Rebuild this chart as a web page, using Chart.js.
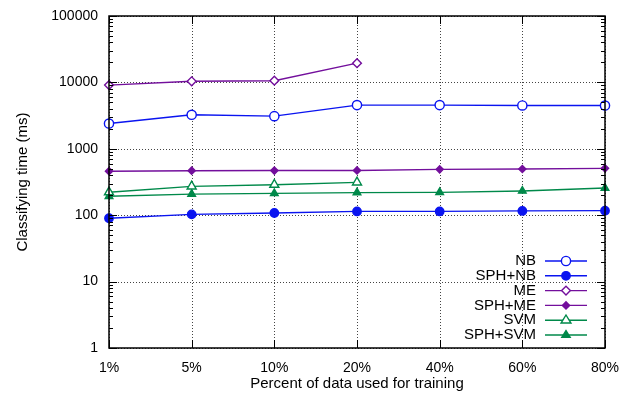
<!DOCTYPE html>
<html>
<head>
<meta charset="utf-8">
<script src="https://cdn.jsdelivr.net/npm/chart.js@4"></script>
<style>
  html, body { margin: 0; padding: 0; background: #fff; }
  #wrap { width: 630px; height: 397px; }
</style>
</head>
<body>
<div id="wrap"><canvas id="chart"></canvas></div>
<script>
// data
const labels = ['1%', '5%', '10%', '20%', '40%', '60%', '80%'];
const nb     = [2400, 3250, 3100, 4550, 4550, 4500, 4480];
const sphNb  = [90, 103, 108, 114, 114, 116, 117];
const me     = [9100, 10400, 10600, 19500, null, null, null];
const sphMe  = [460, 468, 470, 472, 490, 496, 508];
const svm    = [222, 272, 288, 312, null, null, null];
const sphSvm = [193, 208, 213, 219, 221, 232, 257];
const yTicks = [1, 10, 100, 1000, 10000, 100000];

const BLUE = '#0a14f0';
const PURPLE = '#730f9c';
const GREEN = '#00894a';
const FONT = 'Liberation Sans, Arial, sans-serif';

function series(label, data, color, style, filled, radius) {
  return {
    label: label,
    data: data,
    borderColor: color,
    backgroundColor: filled ? color : '#fff',
    pointStyle: style,
    pointRadius: radius,
    pointHoverRadius: radius,
    pointBorderWidth: 1.4,
    borderWidth: 1.4,
    tension: 0,
    spanGaps: false
  };
}

const datasets = [
  series('NB', nb, BLUE, 'circle', false, 4.6),
  series('SPH+NB', sphNb, BLUE, 'circle', true, 4.2),
  series('ME', me, PURPLE, 'rectRot', false, 4.4),
  series('SPH+ME', sphMe, PURPLE, 'rectRot', true, 3.6),
  series('SVM', svm, GREEN, 'triangle', false, 5.2),
  series('SPH+SVM', sphSvm, GREEN, 'triangle', true, 4.4)
];

function drawMark(ctx, style, r, x, y) {
  if (style === 'circle') {
    ctx.arc(x, y, r, 0, Math.PI * 2);
  } else if (style === 'rectRot') {
    ctx.moveTo(x, y - r); ctx.lineTo(x + r, y); ctx.lineTo(x, y + r); ctx.lineTo(x - r, y); ctx.closePath();
  } else {
    ctx.moveTo(x, y - r); ctx.lineTo(x + r * 0.95, y + r * 0.55); ctx.lineTo(x - r * 0.95, y + r * 0.55); ctx.closePath();
  }
}

// dotted grid under the lines
const grid = {
  id: 'grid',
  beforeDatasetsDraw(chart) {
    const ctx = chart.ctx;
    const a = chart.chartArea;
    const ys = chart.scales.y;
    const xs = chart.scales.x;
    ctx.save();
    ctx.strokeStyle = '#444';
    ctx.lineWidth = 1;
    ctx.setLineDash([1, 2]);
    yTicks.forEach(v => {
      const py = Math.round(ys.getPixelForValue(v)) + 0.5;
      ctx.beginPath(); ctx.moveTo(a.left, py); ctx.lineTo(a.right, py); ctx.stroke();
    });
    labels.forEach((l, i) => {
      const px = Math.round(xs.getPixelForValue(i)) + 0.5;
      ctx.beginPath(); ctx.moveTo(px, a.top); ctx.lineTo(px, a.bottom); ctx.stroke();
    });
    ctx.restore();
  }
};

// gnuplot style frame, ticks and legend
const frame = {
  id: 'frame',
  afterDraw(chart) {
    const ctx = chart.ctx;
    const a = chart.chartArea;
    const ys = chart.scales.y;
    const xs = chart.scales.x;
    ctx.save();
    ctx.strokeStyle = '#000';
    ctx.lineWidth = 1;
    for (let d = 1; d < 100000; d *= 10) {
      for (let m = 2; m <= 9; m++) {
        const py = Math.round(ys.getPixelForValue(d * m)) + 0.5;
        ctx.beginPath();
        ctx.moveTo(a.left, py); ctx.lineTo(a.left + 4, py);
        ctx.moveTo(a.right, py); ctx.lineTo(a.right - 4, py);
        ctx.stroke();
      }
    }
    yTicks.forEach(v => {
      const py = Math.round(ys.getPixelForValue(v)) + 0.5;
      ctx.beginPath();
      ctx.moveTo(a.left, py); ctx.lineTo(a.left + 8, py);
      ctx.moveTo(a.right, py); ctx.lineTo(a.right - 8, py);
      ctx.stroke();
    });
    labels.forEach((l, i) => {
      const px = Math.round(xs.getPixelForValue(i)) + 0.5;
      ctx.beginPath();
      ctx.moveTo(px, a.bottom); ctx.lineTo(px, a.bottom - 8);
      ctx.moveTo(px, a.top); ctx.lineTo(px, a.top + 8);
      ctx.stroke();
    });
    ctx.lineWidth = 1.5;
    ctx.strokeRect(a.left, a.top, a.right - a.left, a.bottom - a.top);

    // legend, bottom right
    ctx.font = '15px ' + FONT;
    ctx.textAlign = 'right';
    ctx.textBaseline = 'middle';
    const textRight = a.right - 69;
    const lineL = a.right - 60, lineR = a.right - 18;
    chart.data.datasets.forEach((ds, i) => {
      const y = 261 + i * 14.8;
      ctx.fillStyle = '#000';
      ctx.fillText(ds.label, textRight, y);
      ctx.strokeStyle = ds.borderColor;
      ctx.lineWidth = 1.4;
      ctx.beginPath();
      ctx.moveTo(lineL, y); ctx.lineTo(lineR, y);
      ctx.stroke();
      const cx = (lineL + lineR) / 2;
      ctx.fillStyle = ds.backgroundColor;
      ctx.beginPath();
      drawMark(ctx, ds.pointStyle, ds.pointRadius, cx, y);
      ctx.fill();
      ctx.stroke();
    });
    ctx.restore();
  }
};

new Chart(document.getElementById('chart'), {
  type: 'line',
  data: { labels: labels, datasets: datasets },
  options: {
    responsive: true,
    maintainAspectRatio: false,
    animation: false,
    layout: { padding: { top: 16, right: 25, left: 14, bottom: 0 } },
    plugins: {
      legend: { display: false },
      tooltip: { enabled: false }
    },
    scales: {
      x: {
        type: 'category',
        offset: false,
        grid: { display: false },
        border: { display: false },
        ticks: {
          color: '#000',
          font: { family: FONT, size: 14 },
          padding: 4,
          maxRotation: 0,
          autoSkip: false
        },
        title: {
          display: true,
          text: 'Percent of data used for training',
          color: '#000',
          font: { family: FONT, size: 15 },
          padding: { top: 0, bottom: 4 }
        },
        afterFit(s) { s.height = 49; }
      },
      y: {
        type: 'logarithmic',
        min: 1,
        max: 100000,
        afterBuildTicks(s) { s.ticks = yTicks.map(v => ({ value: v, major: true })); },
        grid: { display: false },
        border: { display: false },
        ticks: {
          color: '#000',
          font: { family: FONT, size: 14 },
          padding: 3,
          callback: v => String(v)
        },
        title: {
          display: true,
          text: 'Classifying time (ms)',
          color: '#000',
          font: { family: FONT, size: 15 },
          padding: { top: 0, bottom: 0 }
        },
        afterFit(s) { s.width = 95; }
      }
    }
  },
  plugins: [grid, frame]
});
</script>
</body>
</html>
